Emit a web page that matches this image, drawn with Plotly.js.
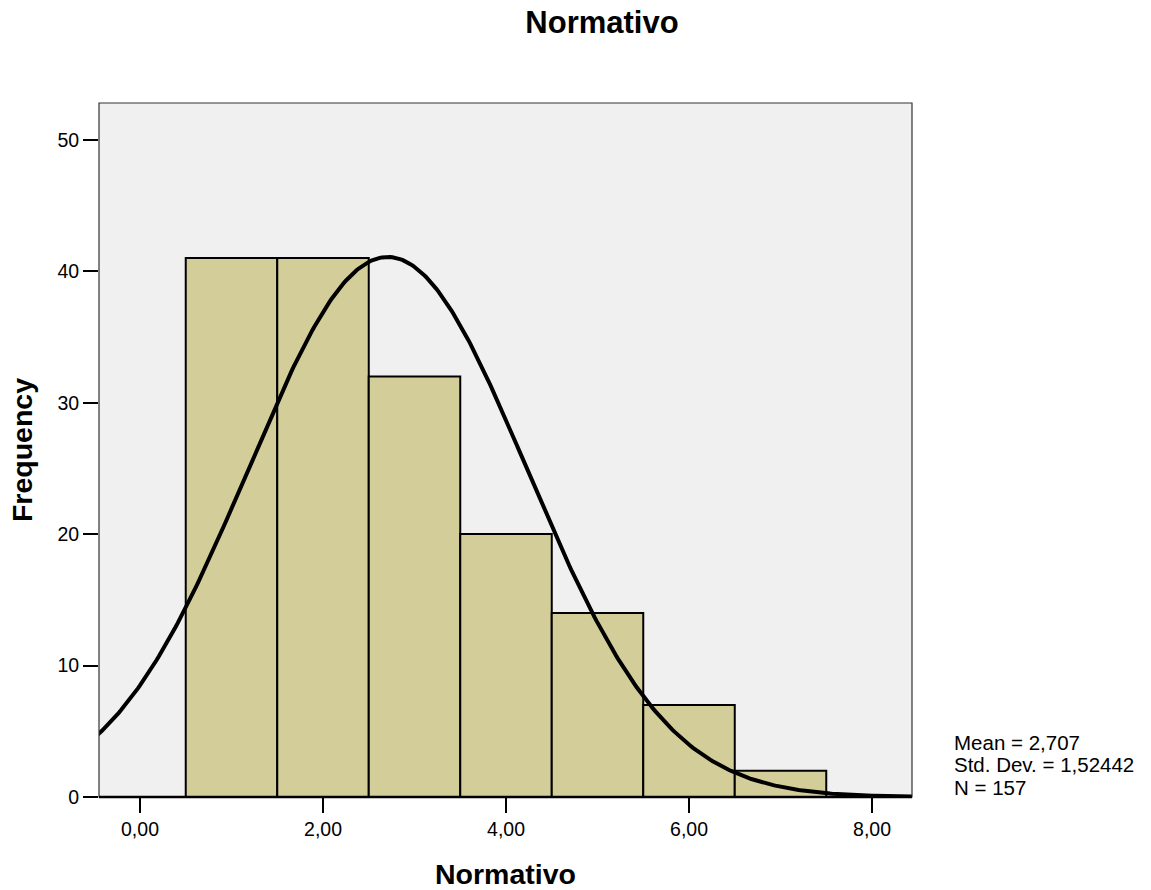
<!DOCTYPE html>
<html>
<head>
<meta charset="utf-8">
<script src="https://cdn.plot.ly/plotly-3.0.1.min.js"></script>
<style>body{margin:0;padding:0;background:#fff;}#chart{width:1151px;height:890px;}</style>
</head>
<body>
<div id="chart"></div>
<script>
// Histogram data (bin centers, width 1)
const binCenters = [1, 2, 3, 4, 5, 6, 7];
const frequencies = [41, 41, 32, 20, 14, 7, 2];
const xTickVals = [0, 2, 4, 6, 8];
const xTickText = ['0,00', '2,00', '4,00', '6,00', '8,00'];
const yTickVals = [0, 10, 20, 30, 40, 50];
// Summary statistics shown on chart (define the fitted normal curve)
const mean = 2.707;
const stdDev = 1.52442;
const nObs = 157;
const binWidth = 1;
const statLines = ['Mean = 2,707', 'Std. Dev. = 1,52442', 'N = 157'];

// Normal curve fitted by the stats above
const curveX = [];
const curveY = [];
for (let i = 0; i <= 400; i++) {
  const x = -0.6 + i * (9.2 / 400);
  curveX.push(x);
  const z = (x - mean) / stdDev;
  curveY.push(nObs * binWidth / (stdDev * Math.sqrt(2 * Math.PI)) * Math.exp(-0.5 * z * z));
}

const FONT = 'Liberation Sans, Arial, sans-serif';

const traces = [
  {
    type: 'bar',
    x: binCenters,
    y: frequencies,
    width: binWidth,
    marker: { color: 'rgb(211,206,153)', line: { color: '#000', width: 2 } },
    hoverinfo: 'x+y'
  },
  {
    type: 'scatter',
    mode: 'lines',
    x: curveX,
    y: curveY,
    line: { color: '#000', width: 4 },
    hoverinfo: 'skip'
  }
];

const statCenters = [742, 764.5, 787];
const annotations = statLines.map((t, i) => ({
  xref: 'paper', yref: 'paper', x: (952 - 99) / 813, y: (797 - statCenters[i]) / 694,
  xanchor: 'left', yanchor: 'middle', align: 'left', showarrow: false,
  text: t,
  font: { family: FONT, size: 20.5, color: '#000' }
}));

const layout = {
  width: 1151,
  height: 890,
  showlegend: false,
  paper_bgcolor: '#fff',
  plot_bgcolor: '#f0f0f0',
  margin: { l: 99, r: 239, t: 103, b: 93 },
  title: {
    text: '<b>Normativo</b>',
    font: { family: FONT, size: 31, color: '#000' },
    x: (602 - 99) / 813, xanchor: 'center', xref: 'paper',
    y: 1 - 22 / 890, yanchor: 'middle', yref: 'container'
  },
  xaxis: {
    range: [-0.448, 8.437],
    tickvals: xTickVals,
    ticktext: xTickText,
    ticks: 'outside',
    ticklen: 15,
    tickwidth: 2,
    tickcolor: '#000',
    showgrid: false,
    zeroline: false,
    showline: false,
    tickfont: { family: FONT, size: 19.5, color: '#000' },
    title: { text: '<b>Normativo</b>', font: { family: FONT, size: 28.5, color: '#000' }, standoff: 24 },
    fixedrange: true
  },
  yaxis: {
    range: [0, 52.8],
    tickvals: yTickVals,
    ticks: 'outside',
    ticklen: 15,
    tickwidth: 2,
    tickcolor: '#000',
    showgrid: false,
    zeroline: false,
    showline: false,
    tickfont: { family: FONT, size: 19.5, color: '#000' },
    title: { text: '<b>Frequency</b>', font: { family: FONT, size: 28.5, color: '#000' }, standoff: 16 },
    fixedrange: true
  },
  shapes: [
    { type: 'rect', xref: 'paper', yref: 'paper', x0: 0, x1: 1, y0: 0, y1: 1,
      line: { color: '#333', width: 1.2 }, layer: 'above' },
    { type: 'line', xref: 'paper', yref: 'paper', x0: 0, x1: 1, y0: 0, y1: 0,
      line: { color: '#000', width: 2.5 }, layer: 'above' }
  ],
  annotations: annotations
};

Plotly.newPlot('chart', traces, layout, { displayModeBar: false, staticPlot: true });
</script>
</body>
</html>
